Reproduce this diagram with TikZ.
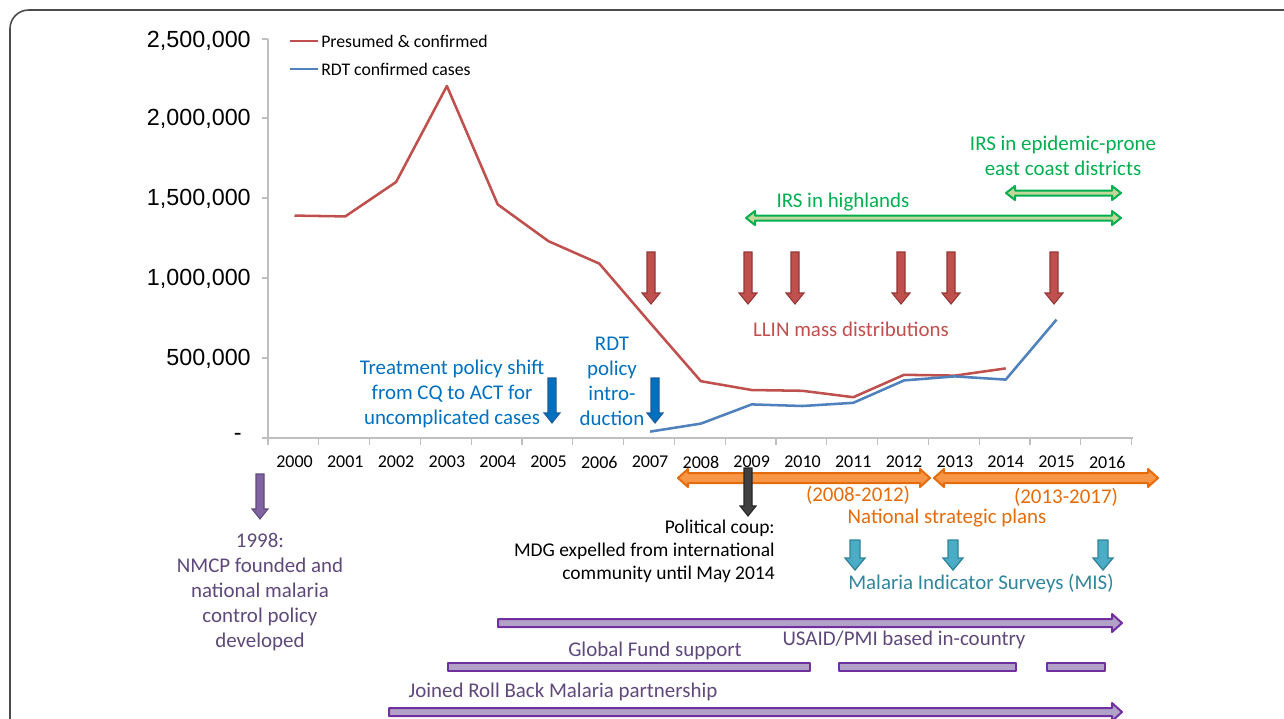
\documentclass[tikz,border=0pt]{standalone}
\usepackage{fontspec}
\setmainfont{Carlito}
\newfontfamily\arialf{Liberation Sans}
\definecolor{cred}{HTML}{C0504D}
\definecolor{cdred}{HTML}{943634}
\definecolor{cblue}{HTML}{4F81BD}
\definecolor{tblue}{HTML}{0070C0}
\definecolor{dblue}{HTML}{1F5C99}
\definecolor{cgreen}{HTML}{00B050}
\definecolor{lgreen}{HTML}{C4D79B}
\definecolor{corange}{HTML}{F79646}
\definecolor{dorange}{HTML}{E46C0A}
\definecolor{cteal}{HTML}{4BACC6}
\definecolor{dteal}{HTML}{31859C}
\definecolor{cpurp}{HTML}{8064A2}
\definecolor{dpurp}{HTML}{5F497A}
\definecolor{bpurp}{HTML}{7030A0}
\definecolor{lpurp}{HTML}{B3A2C7}
\definecolor{axisg}{HTML}{BFBFBF}
\newcommand\vblock[7]{\draw[#7] ({#1-#4},#2) -- ({#1+#4},#2) -- ({#1+#4},{#3-#6}) -- ({#1+#5},{#3-#6}) -- (#1,#3) -- ({#1-#5},{#3-#6}) -- ({#1-#4},{#3-#6}) -- cycle;}
\newcommand\hdbl[7]{\draw[#7] (#1,#3) -- ({#1+#6},{#3-#5}) -- ({#1+#6},{#3-#4}) -- ({#2-#6},{#3-#4}) -- ({#2-#6},{#3-#5}) -- (#2,#3) -- ({#2-#6},{#3+#5}) -- ({#2-#6},{#3+#4}) -- ({#1+#6},{#3+#4}) -- ({#1+#6},{#3+#5}) -- cycle;}
\newcommand\hsgl[7]{\draw[#7] (#1,{#3-#4}) -- ({#2-#6},{#3-#4}) -- ({#2-#6},{#3-#5}) -- (#2,#3) -- ({#2-#6},{#3+#5}) -- ({#2-#6},{#3+#4}) -- (#1,{#3+#4}) -- cycle;}
\tikzset{
  lbl/.style={font=\fontsize{15.7}{18.75}\selectfont, inner sep=0pt, align=center},
  yl/.style={font=\arialf\fontsize{17.5}{20}\selectfont, anchor=east, inner sep=0pt},
  yr/.style={font=\fontsize{13.5}{16}\selectfont, inner sep=0pt},
  leg/.style={font=\fontsize{13.3}{16}\selectfont, anchor=west, inner sep=0pt},
  dataline/.style={line width=1.9pt, line join=round},
  grn/.style={fill=lgreen, draw=cgreen, line width=1.5pt, line join=round},
  llin/.style={fill=cred, draw=cdred, line width=0.8pt},
  blu/.style={fill=tblue, draw=dblue, line width=0.8pt},
  org/.style={fill=corange, draw=dorange, line width=1.5pt, line join=round},
  tea/.style={fill=cteal, draw=dteal, line width=1pt},
  pbar/.style={fill=lpurp, draw=bpurp, line width=1.5pt, line join=round},
}
\begin{document}
\begin{tikzpicture}[x=0.75pt,y=-0.75pt]
\useasboundingbox (0,0) rectangle (1284,718);
\clip (0,0) rectangle (1284,718);
\fill[white] (0,0) rectangle (1284,718);
\draw[line width=1.2pt, color=black!70, rounded corners=14] (10,10) rectangle (1320,760);
% axes
\draw[axisg, line width=0.8pt] (268,39) -- (268,438) -- (1133,438);
\foreach \v in {39,118,198,278,358,438} \draw[axisg, line width=0.8pt] (262,\v) -- (268,\v);
\foreach \k in {0,...,17} \draw[axisg, line width=0.8pt] ({268+\k*50.8},438) -- ({268+\k*50.8},445);
\node[yl] (y25) at (251,41) {2,500,000};
\node[yl] (y20) at (251,119) {2,000,000};
\node[yl] (y15) at (251,199) {1,500,000};
\node[yl] (y10) at (251,279) {1,000,000};
\node[yl] (y05) at (251,359) {500,000};
\node[yl] (y00) at (242,437) {-};
\foreach \k in {0,...,16} {\pgfmathtruncatemacro\yr{2000+\k}\node[yr] (yr\k) at ({294.5+\k*50.8},462) {\yr};}
% legend
\draw[cred, line width=2.2pt] (290,41) -- (318,41);
\node[leg] (legr) at (321,41) {Presumed \& confirmed};
\draw[cblue, line width=2.2pt] (290,69) -- (318,69);
\node[leg] (legb) at (321,69) {RDT confirmed cases};
% data
\draw[dataline, cred] (294.5,215.6) -- (345.3,216.4) -- (396.1,182) -- (446.9,86) -- (497.7,204.4) -- (548.5,241.2) -- (599.3,263.6) -- (650.1,322.8) -- (700.9,381.2) -- (751.7,390) -- (802.5,390.8) -- (853.3,397.2) -- (904.1,374.8) -- (954.9,375.6) -- (1005.7,368.4);
\draw[dataline, cblue] (650.1,431.6) -- (700.9,423.6) -- (751.7,404.4) -- (802.5,406) -- (853.3,402.8) -- (904.1,380.4) -- (954.9,376.4) -- (1005.7,379.6) -- (1056.5,319.6);
% IRS
\node[lbl, text=cgreen] (irse) at (1063,155.5) {IRS in epidemic-prone\\east coast districts};
\hdbl{1006}{1121}{193}{2.5}{7}{9}{grn}
\node[lbl, text=cgreen] (irsh) at (843,202) {IRS in highlands};
\hdbl{746}{1121}{218}{2.5}{7}{9}{grn}
% LLIN
\foreach \xx in {651,748,795,901,951,1054} {\vblock{\xx}{252}{304}{4}{9}{11}{llin}}
\node[lbl, text=cred] (llin) at (851,329) {LLIN mass distributions};
% treatment
\node[lbl, text=tblue] (treat) at (452,393.5) {Treatment policy shift\\from CQ to ACT for\\uncomplicated cases};
\vblock{552}{378}{423}{4}{8}{10}{blu}
\node[lbl, text=tblue] (rdt) at (612,381) {RDT\\policy\\intro-\\duction};
\vblock{655}{378}{423}{4}{8}{10}{blu}
% national strategic plans
\hdbl{678}{930}{478}{5}{9}{10}{org}
\hdbl{934}{1158}{478}{5}{9}{10}{org}
\node[lbl, text=dorange] (nsp1) at (858,495) {(2008-2012)};
\node[lbl, text=dorange] (nsp2) at (1066,497) {(2013-2017)};
\node[lbl, text=dorange] (nsp) at (947,518) {National strategic plans};
% coup
\vblock{748}{468}{516}{4}{8}{10}{fill=black!75, draw=black!85, line width=0.8pt}
\node[font=\fontsize{14.6}{17.25}\selectfont, inner sep=0pt, align=right, anchor=east] (coup) at (775,551) {Political coup:\\MDG expelled from international\\community until May 2014};
% 1998
\vblock{260}{474}{519}{4}{8}{10}{fill=cpurp, draw=dpurp, line width=0.8pt}
\node[lbl, text=dpurp] (nmcp) at (260,592) {1998:\\NMCP founded and\\national malaria\\control policy\\developed};
% MIS
\foreach \xx in {855,953,1103} {\vblock{\xx}{540}{570}{5}{10}{12}{tea}}
\node[lbl, text=dteal] (mis) at (981,584) {Malaria Indicator Surveys (MIS)};
% funding bars
\hsgl{498}{1122}{623}{4}{9}{10}{pbar}
\node[lbl, text=dpurp] (usaid) at (904,640) {USAID/PMI based in-country};
\node[lbl, text=dpurp] (gf) at (655,651) {Global Fund support};
\draw[pbar] (448,663) rectangle (810,671);
\draw[pbar] (839,663) rectangle (1016,671);
\draw[pbar] (1047,663) rectangle (1105,671);
\node[lbl, text=dpurp] (rbm) at (563,692) {Joined Roll Back Malaria partnership};
\hsgl{389}{1122}{712}{4}{9}{10}{pbar}
\end{tikzpicture}
\end{document}
